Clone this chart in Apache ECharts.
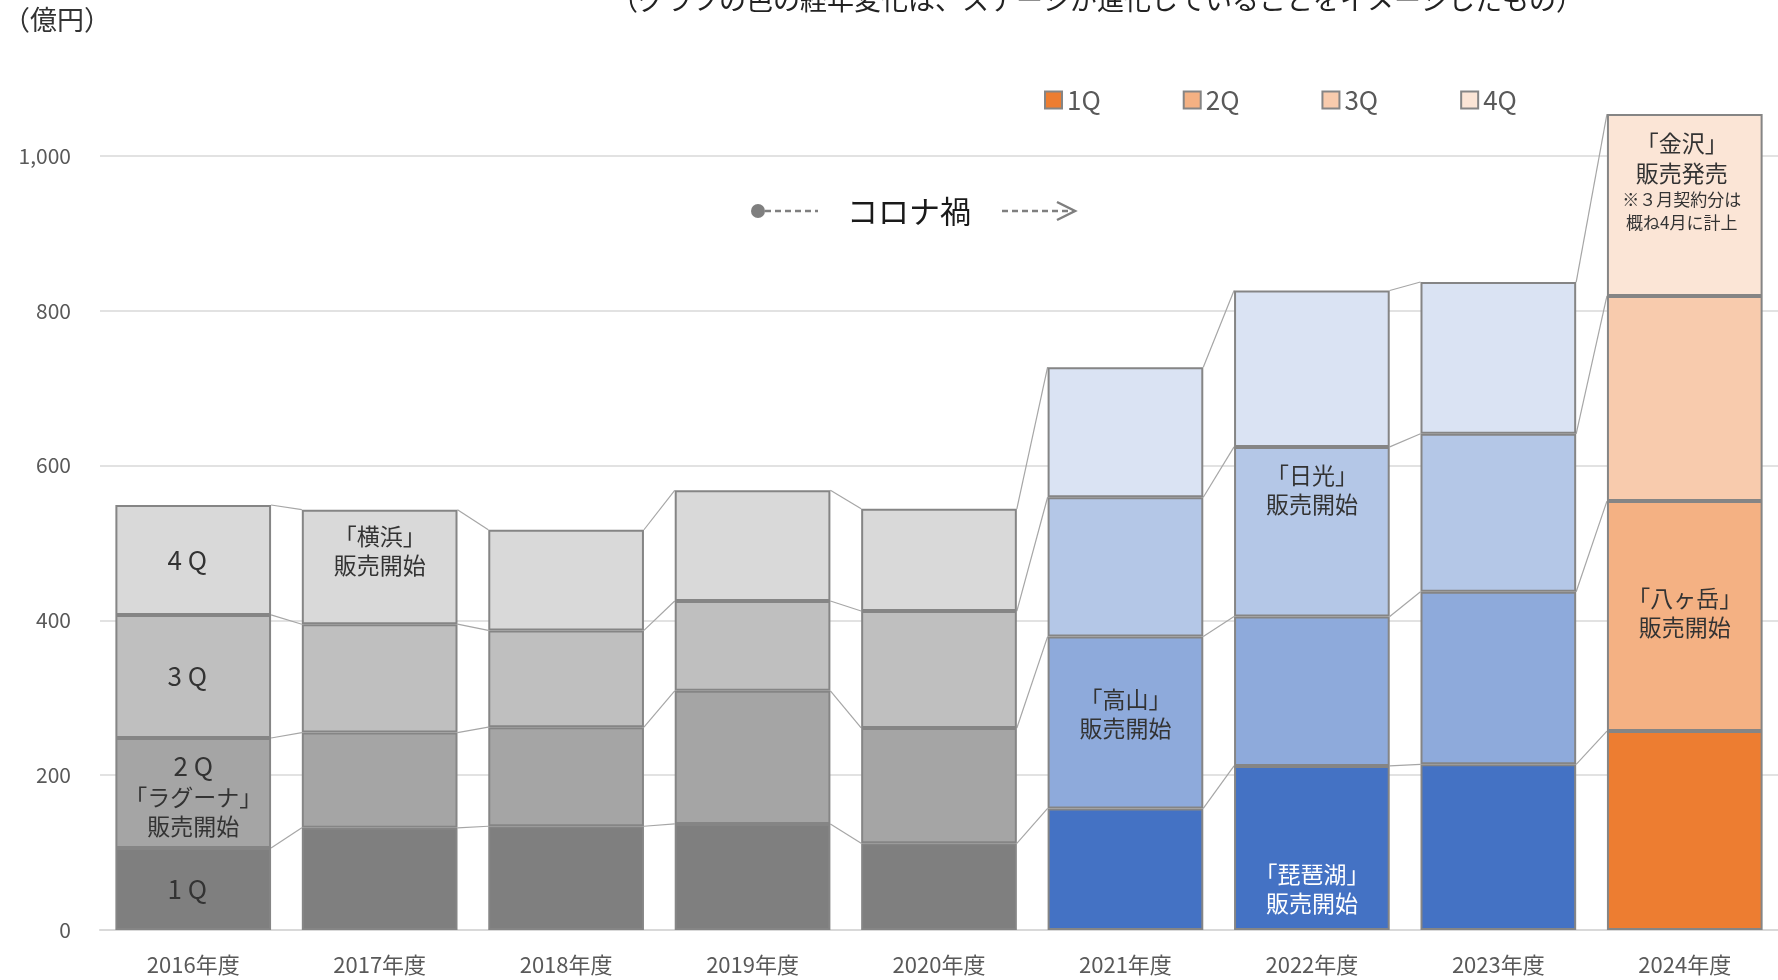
<!DOCTYPE html>
<html>
<head>
<meta charset="utf-8">
<script src="https://cdn.jsdelivr.net/npm/echarts@6/dist/echarts.min.js"></script>
<style>
html, body { margin: 0; padding: 0; background: #fff; }
#chart { width: 1778px; height: 980px; }
</style>
</head>
<body>
<div id="chart"></div>
<script>
// 年度別・四半期別 売上（億円）
const years = ['2016年度', '2017年度', '2018年度', '2019年度', '2020年度', '2021年度', '2022年度', '2023年度', '2024年度'];
const q1 = [106, 132, 134, 137, 112, 157, 212, 214, 257];
const q2 = [142, 123, 128, 172, 149, 222, 193, 223, 297];
const q3 = [159, 140, 125, 116, 151, 180, 219, 204, 265];
const q4 = [142, 148, 130, 143, 132, 168, 202, 196, 235];
const quarters = ['1Q', '2Q', '3Q', '4Q'];

// 色：グレー(2016-2020) → 青(2021-2023) → オレンジ(2024)
const grayCol = ['#7f7f7f', '#a5a5a5', '#bfbfbf', '#d9d9d9'];
const blueCol = ['#4472c4', '#8eaadb', '#b4c7e7', '#dae3f3'];
const orangeCol = ['#ed7d31', '#f4b183', '#f8cbad', '#fbe5d6'];

const FONT = '"Noto Sans CJK JP", "Noto Sans", sans-serif';
const GAP = 0.165;

function colorFor(i, q) {
    if (i <= 4) return grayCol[q];
    if (i <= 7) return blueCol[q];
    return orangeCol[q];
}

// 棒の中の注記
const notes = {
    '0-0': { formatter: '1 Q', fontSize: 26, position: 'inside', offset: [-6, 0] },
    '0-1': {
        formatter: '{q|2 Q}\n{t|「ラグーナ」}\n{t|販売開始}', position: 'inside', offset: [0, 2],
        rich: { q: { fontSize: 26, lineHeight: 34, color: '#333', fontFamily: FONT }, t: { fontSize: 23, lineHeight: 29, color: '#333', fontFamily: FONT } }
    },
    '0-2': { formatter: '3 Q', fontSize: 26, position: 'inside', offset: [-6, 0] },
    '0-3': { formatter: '4 Q', fontSize: 26, position: 'inside', offset: [-6, 0] },
    '1-3': { formatter: '「横浜」\n販売開始', position: 'insideTop', distance: 12 },
    '5-1': { formatter: '「高山」\n販売開始', position: 'inside', offset: [0, -9] },
    '6-2': { formatter: '「日光」\n販売開始', position: 'insideTop', distance: 14 },
    '6-0': { formatter: '「琵琶湖」\n販売開始', position: 'insideBottom', distance: 12, color: '#fff' },
    '8-1': { formatter: '「八ヶ岳」\n販売開始', position: 'inside', offset: [0, -3] },
    '8-3': {
        formatter: '{a|「金沢」}\n{a|販売発売}\n{b|※３月契約分は}\n{b|概ね4月に計上}', position: 'insideTop', distance: 14, offset: [-3, 0],
        rich: { a: { fontSize: 23, lineHeight: 30, color: '#333', fontFamily: FONT }, b: { fontSize: 17, lineHeight: 23, color: '#333', fontFamily: FONT } }
    }
};

function items(vals, q) {
    return vals.map((v, i) => {
        const it = { value: v, itemStyle: { color: colorFor(i, q) } };
        const n = notes[i + '-' + q];
        if (n) {
            it.label = Object.assign({ show: true, color: '#333', fontSize: 23, lineHeight: 29, fontFamily: FONT }, n);
        }
        return it;
    });
}

const qVals = [q1, q2, q3, q4];
const barSeries = qVals.map((vals, q) => ({
    name: quarters[q],
    type: 'bar',
    stack: 'total',
    barCategoryGap: (GAP * 100) + '%',
    itemStyle: { color: orangeCol[q], borderColor: '#858585', borderWidth: 2 },
    emphasis: { disabled: true },
    data: items(vals, q)
}));

// 区分線（各四半期の累計を隣の棒とつなぐ）
const cum = [];
qVals.forEach((vals, q) => {
    cum.push(vals.map((v, i) => v + (q > 0 ? cum[q - 1][i] : 0)));
});
const links = [];
cum.forEach(level => {
    for (let i = 0; i < years.length - 1; i++) links.push([i, level[i], level[i + 1]]);
});

const chart = echarts.init(document.getElementById('chart'));
chart.setOption({
    animation: false,
    textStyle: { fontFamily: FONT },
    grid: { left: 100, right: 0, top: 1, bottom: 50, outerBoundsMode: 'none' },
    legend: {
        data: quarters,
        left: 1039, top: 82,
        itemWidth: 17, itemHeight: 17, itemGap: 82,
        icon: 'rect',
        textStyle: { fontSize: 26, color: '#595959', fontFamily: FONT }
    },
    xAxis: {
        type: 'category',
        data: years,
        axisLine: { lineStyle: { color: '#d9d9d9', width: 2 } },
        axisTick: { show: false },
        axisLabel: { fontSize: 22, color: '#595959', margin: 24 }
    },
    yAxis: {
        type: 'value',
        min: 0, max: 1200, interval: 200,
        axisLine: { show: false },
        axisTick: { show: false },
        axisLabel: {
            fontSize: 21, color: '#595959', margin: 29,
            formatter: v => v === 1200 ? '' : v.toLocaleString('en-US')
        },
        splitLine: { showMaxLine: false, lineStyle: { color: '#d9d9d9', width: 1.5 } }
    },
    series: barSeries.concat([{
        type: 'custom',
        silent: true,
        z: 1,
        encode: { x: 0, y: [1, 2] },
        data: links,
        renderItem: (params, api) => {
            const i = api.value(0);
            const a = api.coord([i, api.value(1)]);
            const b = api.coord([i + 1, api.value(2)]);
            const hw = api.size([1, 0])[0] * (1 - GAP) / 2;
            return {
                type: 'line',
                shape: { x1: a[0] + hw, y1: a[1], x2: b[0] - hw, y2: b[1] },
                style: { stroke: '#a6a6a6', lineWidth: 1.2 }
            };
        }
    }]),
    graphic: [
        { type: 'text', left: 3, top: 6, style: { text: '（億円）', fontSize: 27, fill: '#333', fontFamily: FONT } },
        {
            type: 'text', x: 1097, y: 0,
            style: { text: '（グラフの色の経年変化は、ステージが進化していることをイメージしたもの）', fontSize: 27, fill: '#222', fontFamily: FONT, align: 'center', verticalAlign: 'middle' }
        },
        { type: 'circle', shape: { cx: 758, cy: 211, r: 7 }, style: { fill: '#7f7f7f' } },
        { type: 'line', shape: { x1: 765, y1: 211, x2: 818, y2: 211 }, style: { stroke: '#7f7f7f', lineWidth: 2.5, lineDash: [6, 4] } },
        { type: 'text', x: 847, y: 211, style: { text: 'コロナ禍', fontSize: 31, fill: '#1a1a1a', fontFamily: FONT, verticalAlign: 'middle' } },
        { type: 'line', shape: { x1: 1002, y1: 211, x2: 1073, y2: 211 }, style: { stroke: '#7f7f7f', lineWidth: 2.5, lineDash: [6, 4] } },
        { type: 'polyline', shape: { points: [[1057, 202], [1075, 211], [1057, 220]] }, style: { stroke: '#7f7f7f', lineWidth: 2.5, fill: null } }
    ]
});
</script>
</body>
</html>
